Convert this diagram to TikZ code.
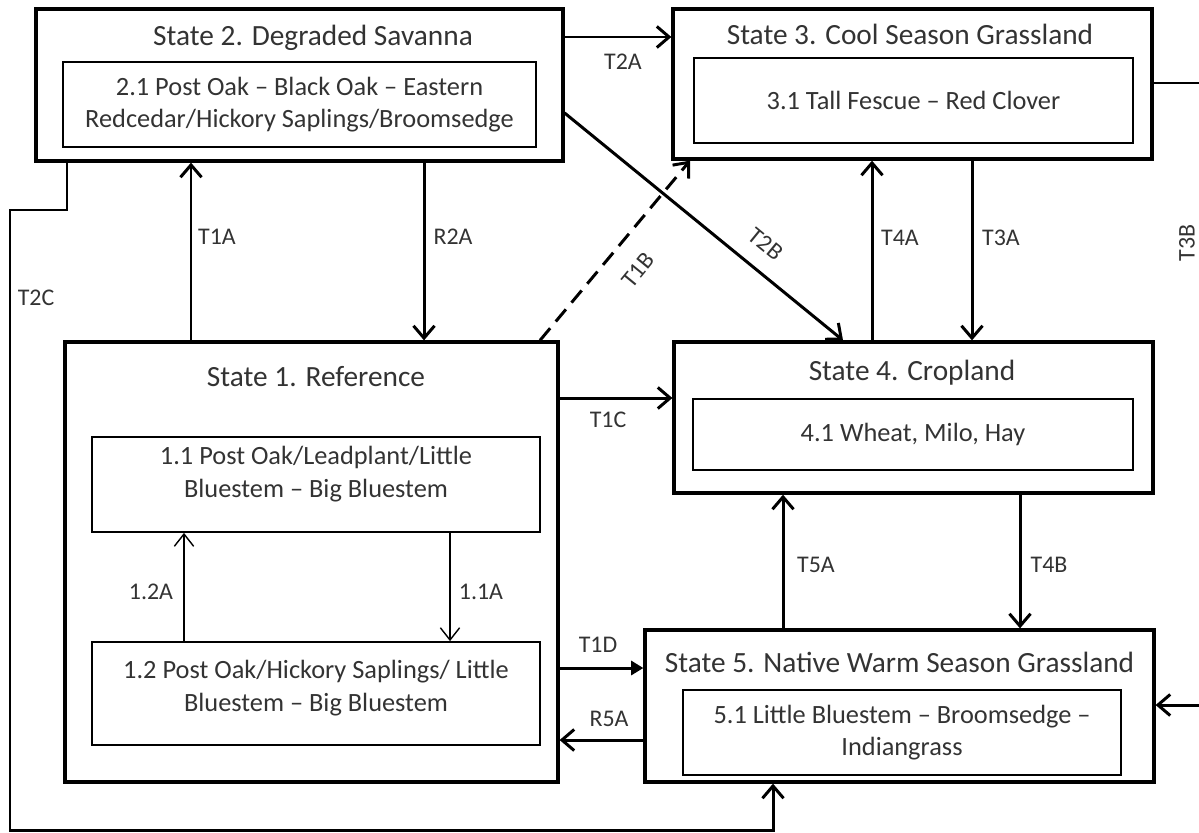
\documentclass[tikz,border=0pt]{standalone}
\usepackage{fontspec}
\setmainfont{Carlito}
\usetikzlibrary{arrows.meta}

\begin{document}
\begin{tikzpicture}[x=0.02cm,y=-0.02cm,
 statebox/.style={draw,line width=1.9pt,inner sep=0pt},
 phasebox/.style={draw,line width=1pt,inner sep=0pt,align=center,text=black!80,font=\fontsize{15}{18.5}\selectfont},
 statetitle/.style={text=black!80,font=\fontsize{16.7}{20}\selectfont},
 lab/.style={text=black!80,font=\fontsize{13.6}{16}\selectfont},
 tr/.style={line width=1.7pt,-{Straight Barb[length=7pt,width=12pt,line width=1.7pt]}},
 thintr/.style={line width=0.7pt,-{Straight Barb[length=7pt,width=11pt,line width=0.8pt]}}]
 \useasboundingbox (0,0) rectangle (1199,832);
 \node[statebox,minimum width=10.54cm,minimum height=3.04cm] (s2) at (299.5,85) {};
 \node[statetitle] (s2t) at (313,38) {State 2. Degraded Savanna};
 \node[phasebox,minimum width=9.46cm,minimum height=1.7cm] (s21) at (299.5,104.5) {2.1 Post Oak – Black Oak – Eastern\\Redcedar/Hickory Saplings/Broomsedge};
 \node[statebox,minimum width=9.58cm,minimum height=3cm] (s3) at (912.5,84) {};
 \node[statetitle] (s3t) at (910,34) {State 3. Cool Season Grassland};
 \node[phasebox,minimum width=8.78cm,minimum height=1.7cm] (s31) at (913.5,100.5) {3.1 Tall Fescue – Red Clover};
 \node[statebox,minimum width=9.86cm,minimum height=8.8cm] (s1) at (311.5,562) {};
 \node[statetitle] (s1t) at (316,377) {State 1. Reference};
 \node[phasebox,minimum width=8.96cm,minimum height=1.9cm,text depth=0.5cm] (s11) at (316,484.5) {1.1 Post Oak/Leadplant/Little\\Bluestem – Big Bluestem};
 \node[phasebox,minimum width=8.96cm,minimum height=2.06cm,text depth=0.3cm] (s12) at (316,693.5) {1.2 Post Oak/Hickory Saplings/ Little\\Bluestem – Big Bluestem};
 \node[statebox,minimum width=9.58cm,minimum height=3.02cm] (s4) at (913.5,417.5) {};
 \node[statetitle] (s4t) at (912,373) {State 4. Cropland};
 \node[phasebox,minimum width=8.8cm,minimum height=1.42cm] (s41) at (913,434.5) {4.1 Wheat, Milo, Hay};
 \node[statebox,minimum width=10.18cm,minimum height=3.04cm] (s5) at (899.5,706) {};
 \node[statetitle] (s5t) at (899.5,662) {State 5. Native Warm Season Grassland};
 \node[phasebox,minimum width=8.76cm,minimum height=1.7cm] (s51) at (902,732.5) {5.1 Little Bluestem – Broomsedge –\\Indiangrass};
 \coordinate (t3bx) at (1203,83);
 \coordinate (t2cx) at (10,210);
 \draw[tr] (s2.east |- 0,37) -- (s3.west |- 0,37);
 \draw[tr] (s1.north -| 191,0) -- (s2.south -| 191,0);
 \draw[tr] (s2.south -| 424,0) -- (s1.north -| 424,0);
 \draw[tr,dashed,dash pattern=on 9pt off 5pt] (s1.north -| 540,0) -- (s3.south -| 690,0);
 \draw[tr] (s2.east |- 0,113) -- (s4.north -| 843,0);
 \draw[tr] (s4.north -| 872,0) -- (s3.south -| 872,0);
 \draw[tr] (s3.south -| 972,0) -- (s4.north -| 972,0);
 \draw[tr] (s3.east |- t3bx) -- (t3bx) -- (t3bx |- 0,705) -- (s5.east |- 0,705);
 \draw[tr] (s2.south -| 67,0) |- (t2cx) |- (773,830) -- (s5.south -| 773,0);
 \draw[tr] (s1.east |- 0,398) -- (s4.west |- 0,398);
 \draw[line width=1.7pt,-{Triangle[length=7pt,width=8pt]}] (s1.east |- 0,668) -- (s5.west |- 0,668);
 \draw[tr] (s5.west |- 0,740) -- (s1.east |- 0,740);
 \draw[tr] (s5.north -| 783,0) -- (s4.south -| 783,0);
 \draw[tr] (s4.south -| 1020,0) -- (s5.north -| 1020,0);
 \draw[thintr] (s12.north -| 184,0) -- (s11.south -| 184,0);
 \draw[thintr] (s11.south -| 450,0) -- (s12.north -| 450,0);
 \node[lab] (t2a) at (623,62) {T2A};
 \node[lab] (t1a) at (217,237) {T1A};
 \node[lab] (r2a) at (453,237) {R2A};
 \node[lab,rotate=50.7] (t1b) at (638,270) {T1B};
 \node[lab,rotate=-39.3] (t2b) at (766,244) {T2B};
 \node[lab] (t4a) at (900,238) {T4A};
 \node[lab] (t3a) at (1001,238) {T3A};
 \node[lab,rotate=90] (t3b) at (1187,243) {T3B};
 \node[lab] (t2c) at (36,298) {T2C};
 \node[lab] (t1c) at (608,420) {T1C};
 \node[lab] (t1d) at (598,645) {T1D};
 \node[lab] (r5a) at (609,719) {R5A};
 \node[lab] (t5a) at (816,565) {T5A};
 \node[lab] (t4b) at (1049,565) {T4B};
 \node[lab] (l12a) at (151,592) {1.2A};
 \node[lab] (l11a) at (481,592) {1.1A};
\end{tikzpicture}
\end{document}
